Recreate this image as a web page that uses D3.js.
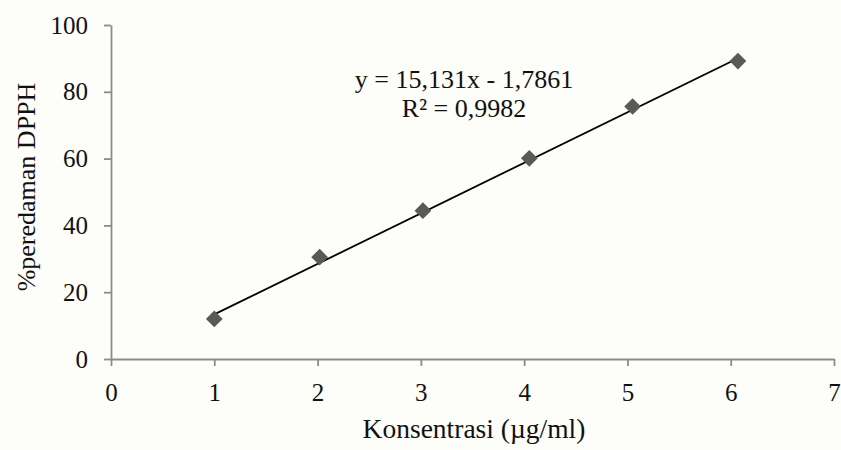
<!DOCTYPE html>
<html>
<head>
<meta charset="utf-8">
<script src="https://cdn.jsdelivr.net/npm/d3@7"></script>
<style>
  html, body { margin: 0; padding: 0; background: #fdfdf9; }
  svg { display: block; }
  text { font-family: "Liberation Serif", "Times New Roman", serif; fill: #111; }
</style>
</head>
<body>
<svg id="chart" width="841" height="450"></svg>
<script>
// Data
const concentrations = [1.0, 2.02, 3.02, 4.05, 5.05, 6.07];
const inhibition = [12.0, 30.5, 44.4, 60.1, 75.6, 89.2];
const slope = 15.131;
const intercept = -1.7861;
const equationLines = ["y = 15,131x - 1,7861", "R² = 0,9982"];
const xTicks = [0, 1, 2, 3, 4, 5, 6, 7];
const yTicks = [0, 20, 40, 60, 80, 100];
const xTitle = "Konsentrasi (µg/ml)";
const yTitle = "%peredaman DPPH";

const svg = d3.select("#chart");
const margin = { left: 111, right: 7, top: 25, bottom: 91 };
const W = 841, H = 450;

const x = d3.scaleLinear().domain([0, 7]).range([margin.left, W - margin.right]);
const y = d3.scaleLinear().domain([0, 100]).range([H - margin.bottom, margin.top]);

const axisColor = "#8c8c8c";
const serif = "'Liberation Serif', 'Times New Roman', serif";

// X axis
const gx = svg.append("g")
  .attr("transform", `translate(0,${y(0)})`)
  .call(d3.axisBottom(x).tickValues(xTicks).tickFormat(d3.format("d")).tickSize(7).tickSizeOuter(0).tickPadding(17));
gx.attr("font-family", null).attr("font-size", null);
gx.select(".domain").attr("stroke", axisColor).attr("stroke-width", 1.8);
gx.selectAll(".tick line").attr("stroke", axisColor).attr("stroke-width", 1.8);
gx.selectAll(".tick text").style("font-size", "25px").style("font-family", serif).attr("fill", "#111");

// Y axis
const gy = svg.append("g")
  .attr("transform", `translate(${x(0)},0)`)
  .call(d3.axisLeft(y).tickValues(yTicks).tickFormat(d3.format("d")).tickSize(7).tickSizeOuter(0).tickPadding(16));
gy.attr("font-family", null).attr("font-size", null);
gy.select(".domain").attr("stroke", axisColor).attr("stroke-width", 1.8);
gy.selectAll(".tick line").attr("stroke", axisColor).attr("stroke-width", 1.8);
gy.selectAll(".tick text").style("font-size", "25px").style("font-family", serif).attr("fill", "#111");

// Trendline
const x0 = d3.min(concentrations), x1 = d3.max(concentrations);
svg.append("line")
  .attr("x1", x(x0)).attr("y1", y(slope * x0 + intercept))
  .attr("x2", x(x1)).attr("y2", y(slope * x1 + intercept))
  .attr("stroke", "#000").attr("stroke-width", 1.8);

// Points
const sym = d3.symbol().type(d3.symbolSquare).size(140);
svg.append("g").selectAll("path")
  .data(concentrations.map((c, i) => [c, inhibition[i]]))
  .join("path")
  .attr("d", sym)
  .attr("transform", d => `translate(${x(d[0])},${y(d[1])}) rotate(45)`)
  .attr("fill", "#595959");

// Equation
svg.append("g").selectAll("text")
  .data(equationLines)
  .join("text")
  .attr("x", 464)
  .attr("y", (d, i) => 88 + i * 29)
  .attr("text-anchor", "middle")
  .style("font-size", "26px")
  .text(d => d);

// Axis titles
svg.append("text")
  .attr("x", 474).attr("y", 438)
  .attr("text-anchor", "middle")
  .style("font-size", "27.5px")
  .text(xTitle);

svg.append("text")
  .attr("transform", `translate(35,${187}) rotate(-90)`)
  .attr("text-anchor", "middle")
  .style("font-size", "26px")
  .text(yTitle);
</script>
</body>
</html>
